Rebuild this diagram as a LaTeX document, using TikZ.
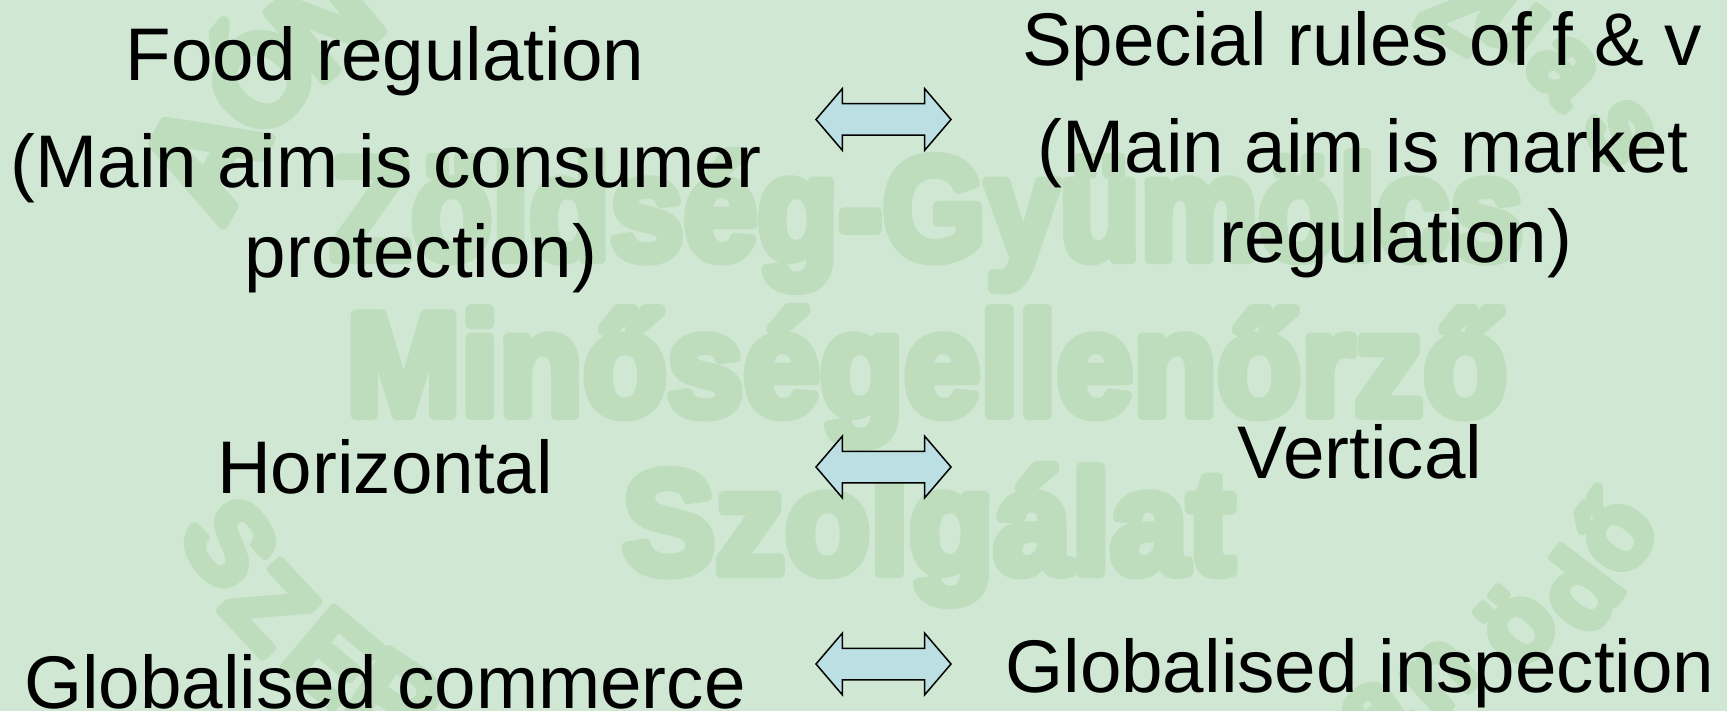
\documentclass[tikz,border=0pt]{standalone}
\usepackage{fontspec}
\usepackage{graphicx}
\setmainfont{Liberation Sans}
\newfontfamily\wmfont{Liberation Sans Bold}[FakeBold=7]
\usetikzlibrary{shapes.arrows}
\definecolor{pagebg}{RGB}{208,232,211}
\definecolor{wmgreen}{RGB}{189,221,189}
\definecolor{arrowfill}{RGB}{187,223,226}
\tikzset{
  lab/.style={anchor=base,inner sep=0pt,font=\fontsize{74.6}{74.6}\selectfont,text=black},
  wmline/.style={anchor=base west,inner sep=0pt,text=wmgreen,font=\fontsize{146}{146}\wmfont},
  wmring/.style={inner sep=0pt,text=wmgreen,font=\fontsize{108}{108}\wmfont},
  wmcap/.style={wmring,font=\fontsize{114}{114}\wmfont},
  twoway/.style={shape=double arrow,draw=black,line width=1.5pt,fill=arrowfill,
    minimum height=135pt,minimum width=60pt,inner xsep=0pt,inner ysep=15pt,
    double arrow head extend=15pt,double arrow tip angle=99,double arrow head indent=0pt}
}
\begin{document}
\begin{tikzpicture}[x=1pt,y=-1pt]
\useasboundingbox (0,0) rectangle (1727,711);
\clip (0,0) rectangle (1727,711);
\fill[pagebg] (0,0) rectangle (1727,711);
\begin{scope}[line join=round]
% watermark
\node[wmline] (w1) at (330,259) {\resizebox{1193pt}{\height}{Zöldség-Gyümölcs}};
\node[wmline] (w2) at (346,415) {\resizebox{1161pt}{\height}{Minőségellenőrző}};
\node[wmline] (w3) at (622,573) {\resizebox{612pt}{\height}{Szolgálat}};
% ring, top left
\node[wmring,rotate=61,font=\fontsize{146}{146}\wmfont] (r1) at (203,157) {A};
\node[wmring,rotate=50,font=\fontsize{125}{125}\wmfont] (r2) at (253,72) {Ó};
\node[wmring,rotate=40,font=\fontsize{130}{130}\wmfont] (r3) at (325,22) {N};
% ring, top right
\node[wmring,rotate=-30] (r4) at (1460,8) {Z};
\node[wmring,rotate=-38] (r5) at (1510,22) {u};
\node[wmring,rotate=-47] (r6) at (1563,70) {a};
\node[wmring,rotate=-60] (r7) at (1620,133) {s};
% ring, bottom left
\node[wmcap,rotate=-54] (r8) at (230,543) {S};
\node[wmcap,rotate=-47] (r9) at (270,607) {Z};
\node[wmcap,rotate=-40] (r10) at (332,657) {E};
\node[wmcap,rotate=-33] (r11) at (395,700) {R};
% ring, bottom right
\node[wmring,rotate=53] (r12) at (1612,532) {ő};
\node[wmring,rotate=53] (r13) at (1577,590) {d};
\node[wmring,rotate=48] (r14) at (1515,625) {ö};
\node[wmring,rotate=42] (r15) at (1440,677) {n};
\node[wmring,rotate=36] (r16) at (1375,715) {a};
\end{scope}
% arrows
\node[twoway] (a1) at (883.5,119.5) {};
\node[twoway] (a2) at (883.5,467) {};
\node[twoway] (a3) at (883.5,664) {};
% text
\node[lab] (l1) at (385,81) {Food regulation};
\node[lab] (l2) at (386,188) {(Main aim is consumer};
\node[lab] (l3) at (421,278) {protection)};
\node[lab] (r1t) at (1362,66) {Special rules of f \& v};
\node[lab] (r2t) at (1363,173) {(Main aim is market};
\node[lab] (r3t) at (1396,263) {regulation)};
\node[lab] (l4) at (385,493) {Horizontal};
\node[lab] (r4t) at (1360,478) {Vertical};
\node[lab] (l5) at (385,708) {Globalised commerce};
\node[lab] (r5t) at (1360,692) {Globalised inspection};
\end{tikzpicture}
\end{document}
